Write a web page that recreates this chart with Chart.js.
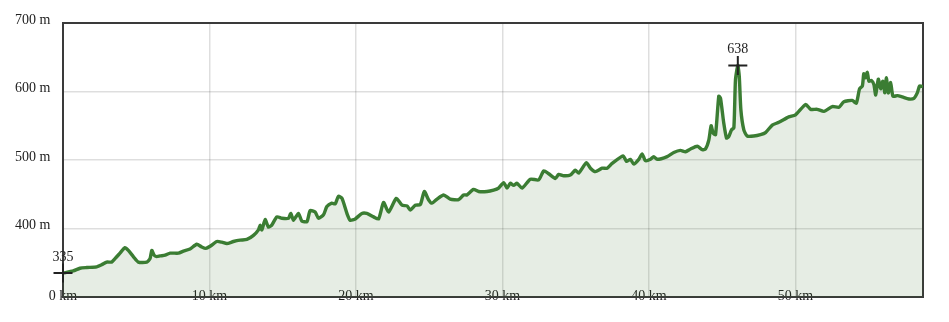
<!DOCTYPE html>
<html>
<head>
<meta charset="utf-8">
<script src="https://cdn.jsdelivr.net/npm/chart.js@4/dist/chart.umd.min.js"></script>
<style>
  html, body { margin: 0; padding: 0; background: #fff; }
  #wrap { width: 949px; height: 322px; }
</style>
</head>
<body>
<div id="wrap"><canvas id="profil" width="949" height="322"></canvas></div>
<script>
const distances = [0, 0.7, 1.16, 1.62, 2.3, 2.64, 2.98, 3.32, 3.55, 3.89, 4.23, 4.46, 4.8, 5.14, 5.72, 5.94, 6.06, 6.22, 6.4, 6.63,
  6.97, 7.31, 7.88, 8.22, 8.67, 9.13, 9.47, 9.75, 10.04, 10.5, 10.84, 11.18, 11.63, 12.09, 12.55, 13.0, 13.34, 13.46, 13.57, 13.8,
  14.02, 14.25, 14.6, 14.94, 15.39, 15.55, 15.73, 16.07, 16.3, 16.65, 16.87, 17.21, 17.44, 17.78, 18.01, 18.35, 18.58, 18.8, 19.04, 19.38,
  19.6, 19.95, 20.4, 20.74, 21.2, 21.54, 21.88, 22.22, 22.75, 23.14, 23.48, 23.7, 24.04, 24.39, 24.66, 24.95, 25.18, 25.53, 25.98, 26.43,
  27.0, 27.34, 27.57, 28.02, 28.37, 28.94, 29.39, 29.73, 30.08, 30.31, 30.53, 30.76, 30.99, 31.33, 31.9, 32.47, 32.81, 33.15, 33.61, 33.83,
  34.17, 34.63, 34.97, 35.2, 35.72, 36.0, 36.34, 36.8, 37.14, 37.48, 38.23, 38.46, 38.73, 38.96, 39.3, 39.53, 39.75, 40.1, 40.32, 40.55,
  41.24, 41.69, 42.14, 42.49, 42.83, 43.29, 43.63, 43.85, 44.08, 44.24, 44.38, 44.54, 44.76, 44.88, 45.1, 45.29, 45.44, 45.63, 45.79, 45.9,
  46.06, 46.16, 46.27, 46.47, 46.7, 47.15, 47.61, 47.95, 48.41, 48.86, 49.54, 50.0, 50.69, 51.03, 51.48, 51.94, 52.51, 52.96, 53.3, 53.87,
  54.15, 54.37, 54.56, 54.66, 54.78, 54.9, 55.01, 55.19, 55.35, 55.47, 55.65, 55.81, 55.96, 56.1, 56.2, 56.33, 56.49, 56.65, 56.95, 57.29,
  57.74, 58.08, 58.31, 58.47, 58.7];
const altitudes = [335, 338, 342, 343, 344, 347, 351, 351, 356, 364, 372, 368, 359, 351, 351, 356, 368, 361, 359, 360,
  361, 364, 364, 367, 370, 377, 373, 371, 374, 381, 380, 378, 381, 383, 384, 390, 398, 405, 398, 413,
  402, 405, 417, 415, 415, 422, 412, 422, 411, 410, 426, 424, 415, 420, 432, 437, 436, 447, 444, 422,
  412, 414, 422, 422, 417, 414, 438, 424, 444, 434, 433, 427, 434, 435, 454, 442, 437, 443, 449, 443,
  442, 449, 449, 457, 454, 454, 456, 459, 467, 459, 466, 463, 466, 459, 472, 471, 484, 480, 473, 479,
  477, 478, 485, 481, 496, 488, 483, 488, 488, 495, 506, 498, 501, 494, 501, 509, 499, 501, 505, 501,
  505, 511, 514, 512, 516, 520, 515, 516, 529, 550, 539, 537, 593, 590, 554, 532, 534, 544, 547, 617,
  638, 622, 573, 544, 535, 535, 537, 540, 551, 555, 563, 566, 581, 574, 574, 571, 578, 577, 585, 587,
  583, 604, 608, 626, 620, 628, 615, 616, 610, 595, 618, 604, 615, 598, 620, 598, 613, 593, 594, 592,
  589, 590, 598, 608, 607];

// points remarquables : départ et point culminant
const reperesKm = [0, 46.06];
const reperesAlt = [335, 638];
const reperesTexte = ['335', '638'];

const ticksAltitude = [400, 500, 600, 700];

const police = { family: '"Liberation Serif", "Times New Roman", serif', size: 14 };

const cadre = {
  id: 'cadre',
  beforeDatasetsDraw(chart) {
    const { ctx, chartArea } = chart;
    ctx.save();
    ctx.strokeStyle = '#3a3a3a';
    ctx.lineWidth = 2;
    ctx.strokeRect(chartArea.left, chartArea.top, chartArea.right - chartArea.left, chartArea.bottom - chartArea.top);
    ctx.restore();
  },
  afterDatasetsDraw(chart) {
    const { ctx, scales } = chart;
    ctx.save();
    ctx.fillStyle = '#222';
    ctx.font = '14px ' + police.family;
    ctx.textAlign = 'center';
    ctx.textBaseline = 'middle';
    reperesKm.forEach((km, i) => {
      const x = scales.x.getPixelForValue(km);
      const y = scales.y.getPixelForValue(reperesAlt[i]);
      ctx.fillText(reperesTexte[i], x, y - 16);
    });
    ctx.restore();
  }
};

new Chart(document.getElementById('profil').getContext('2d'), {
  type: 'line',
  data: {
    datasets: [
      {
        data: reperesKm.map((km, i) => ({ x: km, y: reperesAlt[i] })),
        showLine: false,
        pointStyle: 'cross',
        pointRadius: 9.5,
        pointBorderColor: '#222',
        pointBorderWidth: 2,
        clip: false,
        order: 0
      },
      {
        data: distances.map((km, i) => ({ x: km, y: altitudes[i] })),
        borderColor: '#3b7d33',
        borderWidth: 3.4,
        backgroundColor: 'rgba(60, 115, 50, 0.13)',
        fill: 'start',
        pointRadius: 0,
        tension: 0.2,
        order: 1
      }
    ]
  },
  options: {
    responsive: false,
    animation: false,
    layout: { padding: { left: 15, top: 23, right: 26, bottom: 25 } },
    plugins: { legend: { display: false }, tooltip: { enabled: false } },
    scales: {
      x: {
        type: 'linear',
        min: 0,
        max: 58.7,
        border: { display: false },
        grid: { color: 'rgba(0,0,0,0.13)', lineWidth: 1.5, drawTicks: false },
        ticks: {
          stepSize: 10,
          includeBounds: false,
          mirror: true,
          padding: -8,
          maxRotation: 0,
          autoSkip: false,
          color: '#222',
          font: police,
          callback: (v) => v + ' km'
        }
      },
      y: {
        min: 300,
        max: 700,
        afterFit: (scale) => { scale.width = 48; },
        afterBuildTicks: (scale) => { scale.ticks = ticksAltitude.map(v => ({ value: v })); },
        border: { display: false },
        grid: { color: 'rgba(0,0,0,0.13)', lineWidth: 1.5, drawTicks: false },
        ticks: {
          crossAlign: 'far',
          labelOffset: -3,
          color: '#222',
          font: police,
          callback: (v) => v + ' m'
        }
      }
    }
  },
  plugins: [cadre]
});
</script>
</body>
</html>
